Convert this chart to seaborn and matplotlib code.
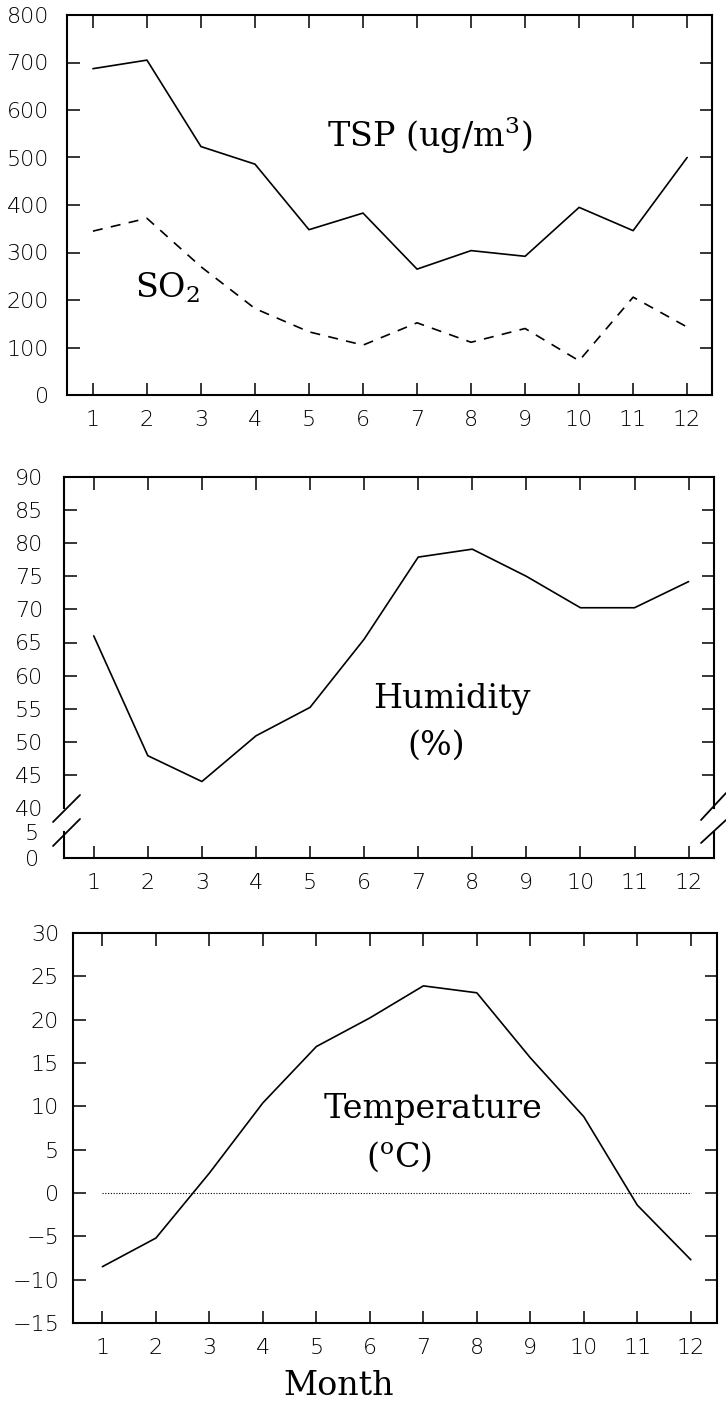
import matplotlib
matplotlib.use("Agg")
import matplotlib.pyplot as plt
from matplotlib.lines import Line2D
import numpy as np
import pandas as pd
import seaborn as sns

# ---------------- data ----------------
months = list(range(1, 13))
month_labels = [str(m) for m in months]
tsp = [687, 705, 523, 486, 348, 383, 265, 304, 292, 395, 346, 500]
so2 = [345, 372, 270, 182, 133, 105, 152, 111, 140, 72, 206, 143]
humidity = [66.0, 47.9, 44.0, 50.9, 55.2, 65.5, 77.9, 79.1, 75.0, 70.25, 70.25, 74.2]
temperature = [-8.5, -5.2, 2.3, 10.4, 16.9, 20.2, 23.9, 23.1, 15.6, 8.8, -1.4, -7.7]
tsp_ticks = list(range(0, 801, 100))
hum_ticks_upper = list(range(40, 91, 5))
hum_ticks_lower = [0, 5]
temp_ticks = list(range(-15, 31, 5))

df_air = pd.DataFrame({"month": months, "TSP": tsp, "SO2": so2})
df_hum = pd.DataFrame({"month": months, "humidity": humidity})
df_tmp = pd.DataFrame({"month": months, "temperature": temperature})

# ---------------- style ----------------
sns.set_theme(style="ticks")
plt.rcParams['font.family'] = ['DejaVu Sans']
plt.rcParams['mathtext.fontset'] = 'dejavuserif'

W, H = 726, 1404
fig = plt.figure(figsize=(W / 100, H / 100), dpi=100)
fig.patch.set_facecolor('white')


def box(l, t, r, b):
    return [l / W, 1 - b / H, (r - l) / W, (b - t) / H]


ax1 = fig.add_axes(box(67, 15, 712, 395))
ax2 = fig.add_axes(box(64, 477, 714, 808))
ax2b = fig.add_axes(box(64, 832, 714, 858))
ax3 = fig.add_axes(box(73, 933, 717, 1323))

SERIF = dict(family='DejaVu Serif', fontsize=24, color='black')


def style(ax, ypad):
    ax.set_facecolor('white')
    for s in ax.spines.values():
        s.set_linewidth(1.5)
        s.set_color('black')
        s.set_visible(True)
    ax.tick_params(axis='both', direction='in', length=9, width=1.1,
                   top=True, right=True, labelsize=16, colors='black')
    ax.tick_params(axis='y', pad=ypad)
    ax.tick_params(axis='x', pad=11)
    for lab in ax.get_xticklabels() + ax.get_yticklabels():
        lab.set_fontweight('light')
    ax.set_xlabel("")
    ax.set_ylabel("")
    ax.grid(False)


# ---------- panel 1: TSP & SO2 ----------
sns.lineplot(data=df_air, x="month", y="TSP", ax=ax1, color='black', lw=1.2, errorbar=None)
sns.lineplot(data=df_air, x="month", y="SO2", ax=ax1, color='black', lw=1.2,
             linestyle=(0, (6, 5)), errorbar=None)
ax1.set_xlim(0.52, 12.46)
ax1.set_ylim(0, 800)
ax1.set_xticks(months, month_labels)
ax1.set_yticks(tsp_ticks, [str(t) for t in tsp_ticks])
style(ax1, 13)
ax1.text(5.33, 522, "TSP (ug/m$^3$)", ha='left', va='baseline', **SERIF)
ax1.text(1.77, 206, "SO$_2$", ha='left', va='baseline', **SERIF)

# ---------- panel 2: Humidity (broken axis) ----------
sns.lineplot(data=df_hum, x="month", y="humidity", ax=ax2, color='black', lw=1.2, errorbar=None)
ax2.set_xlim(0.45, 12.47)
ax2.set_ylim(40, 90)
ax2.set_xticks(months)
ax2.set_yticks(hum_ticks_upper, [str(t) for t in hum_ticks_upper])
style(ax2, 15)
ax2.spines['bottom'].set_visible(False)
ax2.tick_params(axis='x', bottom=False, labelbottom=False)
for tk in (ax2.yaxis.get_major_ticks()[0], ax2.yaxis.get_major_ticks()[-1]):
    tk.tick1line.set_visible(False)
    tk.tick2line.set_visible(False)
ax2.text(7.62, 55.1, "Humidity", ha='center', va='baseline', **SERIF)
ax2.text(7.34, 48.0, "(%)", ha='center', va='baseline', **SERIF)

ax2b.set_xlim(0.45, 12.47)
ax2b.set_ylim(0, 5)
ax2b.set_xticks(months, month_labels)
ax2b.set_yticks(hum_ticks_lower, [str(t) for t in hum_ticks_lower])
style(ax2b, 15)
ax2b.spines['top'].set_visible(False)
ax2b.tick_params(axis='x', top=False)
ax2b.tick_params(axis='y', length=0, pad=15 + 3)

# break marks
for (x0, y0, x1, y1) in [(53, 822, 80, 795), (53, 846, 80, 819),
                         (701, 820, 726, 793), (701, 843, 726, 820)]:
    fig.add_artist(Line2D([x0 / W, x1 / W], [1 - y0 / H, 1 - y1 / H],
                          color='black', lw=1.3))

# ---------- panel 3: Temperature ----------
sns.lineplot(data=df_tmp, x="month", y="temperature", ax=ax3, color='black', lw=1.2, errorbar=None)
ax3.hlines(0, months[0], months[-1], colors='black', linestyles=(0, (1, 1.5)), lw=0.8)
ax3.set_xlim(0.45, 12.49)
ax3.set_ylim(-15, 30)
ax3.set_xticks(months, month_labels)
ax3.set_yticks(temp_ticks, [str(t).replace('-', '\u2212') for t in temp_ticks])
style(ax3, 10)
ax3.text(7.18, 8.66, "Temperature", ha='center', va='baseline', **SERIF)
ax3.text(6.54, 3.0, "($^{\\mathrm{o}}$C)", ha='center', va='baseline', **SERIF)
ax3.set_xlabel("Month", family='DejaVu Serif', fontsize=24, color='black')
ax3.xaxis.set_label_coords((339 - 73) / 644, -0.12)

fig.savefig("out.png", dpi=100, facecolor='white')
